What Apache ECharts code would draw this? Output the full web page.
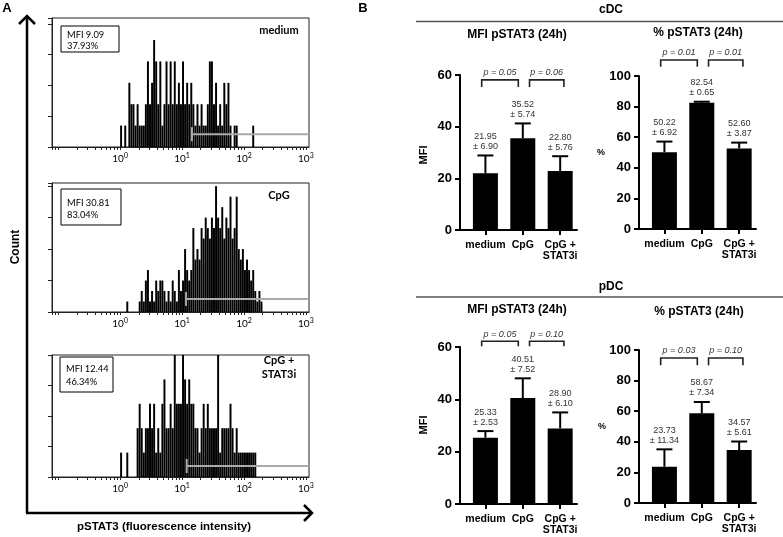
<!DOCTYPE html>
<html>
<head>
<meta charset="utf-8">
<script src="https://cdn.jsdelivr.net/npm/echarts@6/dist/echarts.min.js"></script>
<style>html,body{margin:0;padding:0;background:#fff}#main{width:783px;height:537px}</style>
</head>
<body>
<div id="main"></div>
<script>
// ---- panel A: histograms, bins on log10 scale ----
const binStart = 0;          // log10 of first bin
const binWidth = 1 / 30;     // decades per bin
const histMedium = [1,0,1,0,3,2,2,1,2,1, 1,1,2,4,2,3,5,4,2,4, 1,2,4,2,4,2,4,2,3,2,
                    4,2,3,2,3,2,1,2,1,2, 1,1,2,4,4,2,3,1,2,1, 3,2,3,1,0,1,1,0,0,0, 0,0,0,0,1];
const histCpG = [0,0,0,1,0,0,0,0,0, 1,2,1,3,4,1,2,1,3,2, 3,3,2,1,2,1,3,2,1,4,
                 2,3,6,4,3,4,8,5,6,5, 8,7,9,8,7,9,8,12,9,8, 10,7,9,8,11,7,8,11,6,5, 6,4,5,4,3,4,2,1,2,1];
const histStat3i = [1,0,0,1,0,0,0,0,2,3, 2,1,2,2,3,2,3,1,2,1, 3,4,2,2,3,2,5,3,3,3,
                    5,4,3,4,3,3,2,2,1,2, 3,2,3,2,2,2,2,5,1,2, 2,2,2,3,2,1,2,1,1,1, 1,1,1,1,1,1];
const histNames = ['medium', 'CpG', 'CpG +\nSTAT3i'];
const histMFI = ['MFI 9.09', 'MFI 30.81', 'MFI 12.44'];
const histPct = ['37.93%', '83.04%', '46.34%'];
const gateStart = [1.16, 1.065, 1.075];
const gateLevel = [0.6, 1.25, 0.45];
const decadeLabels = [0, 1, 2, 3];

// ---- panel B: bar charts ----
const groups = ['medium', 'CpG', 'CpG +\nSTAT3i'];
const cdcMfiMean = [21.95, 35.52, 22.80];
const cdcMfiSd = [6.90, 5.74, 5.76];
const cdcMfiP = ['0.05', '0.06'];
const cdcPctMean = [50.22, 82.54, 52.60];
const cdcPctSd = [6.92, 0.65, 3.87];
const cdcPctP = ['0.01', '0.01'];
const pdcMfiMean = [25.33, 40.51, 28.90];
const pdcMfiSd = [2.53, 7.52, 6.10];
const pdcMfiP = ['0.05', '0.10'];
const pdcPctMean = [23.73, 58.67, 34.57];
const pdcPctSd = [11.34, 7.34, 5.61];
const pdcPctP = ['0.03', '0.10'];

const fA = 'Lato, "Open Sans", sans-serif';
const fB = '"Liberation Sans", Arial, sans-serif';

const chart = echarts.init(document.getElementById('main'));

const logMin = -1.1, logMax = 3.05;
const logTicks = [];
for (let d = -2; d < 4; d++) {
    for (let k = 1; k < 10; k++) {
        const v = d + Math.log10(k);
        if (v >= logMin && v <= logMax) logTicks.push(v);
    }
}

const histCounts = [histMedium, histCpG, histStat3i];
const histGrids = [
    { left: 52, top: 18, width: 257, height: 129 },
    { left: 52, top: 183, width: 257, height: 129 },
    { left: 52, top: 355, width: 257, height: 122 }
];
const histYMax = [6.03, 12.3, 5];
const histYStep = [1.44, 3, 1.25];

const barGrids = [
    { left: 460, top: 75, width: 117, height: 155 },
    { left: 639, top: 76, width: 117, height: 153 },
    { left: 460, top: 347, width: 117, height: 157 },
    { left: 639, top: 350, width: 117, height: 153 }
];
const barPanels = [
    { mean: cdcMfiMean, sd: cdcMfiSd, p: cdcMfiP, max: 60, line: 58.1, leg: 55.4 },
    { mean: cdcPctMean, sd: cdcPctSd, p: cdcPctP, max: 100, line: 110.5, leg: 106 },
    { mean: pdcMfiMean, sd: pdcMfiSd, p: pdcMfiP, max: 60, line: 62.2, leg: 60.3 },
    { mean: pdcPctMean, sd: pdcPctSd, p: pdcPctP, max: 100, line: 94.8, leg: 90 }
];

const grid = [], xAxis = [], yAxis = [], series = [];

// histograms
histCounts.forEach((counts, i) => {
    grid.push(Object.assign({ show: true, borderColor: '#222', borderWidth: 1 }, histGrids[i]));
    xAxis.push({
        type: 'value', gridIndex: i, min: logMin, max: logMax,
        axisLine: { onZero: false, lineStyle: { color: '#222', width: 1 } },
        axisTick: { show: true, customValues: logTicks, length: 3, lineStyle: { color: '#222' } },
        axisLabel: {
            customValues: decadeLabels, margin: 5, color: '#000', fontFamily: fA,
            formatter: v => '10{s|' + Math.round(v) + '}',
            rich: { s: { fontSize: 7, fontFamily: fA, verticalAlign: 'top', padding: [0, 0, 6, 0] } },
            fontSize: 10
        },
        splitLine: { show: false }
    });
    yAxis.push({
        type: 'value', gridIndex: i, min: 0, max: histYMax[i], interval: histYStep[i],
        axisLine: { show: true, onZero: false, lineStyle: { color: '#222', width: 1 } },
        axisTick: { show: true, length: 4, lineStyle: { color: '#222' } },
        axisLabel: { show: false },
        splitLine: { show: false }
    });
    series.push({
        type: 'custom', xAxisIndex: i, yAxisIndex: i, silent: true,
        data: counts.map((c, b) => [binStart + b * binWidth, binStart + (b + 1) * binWidth, c]).filter(d => d[2] > 0),
        encode: { x: [0, 1], y: 2 },
        renderItem: (params, api) => {
            const p0 = api.coord([api.value(0), 0]);
            const p1 = api.coord([api.value(1), api.value(2)]);
            return {
                type: 'rect',
                shape: { x: p0[0], y: p1[1], width: (p1[0] - p0[0]) * 0.95, height: p0[1] - p1[1] },
                style: { fill: '#000' }
            };
        }
    });
    series.push({
        type: 'custom', xAxisIndex: i, yAxisIndex: i, silent: true, z: 5,
        data: [[gateStart[i], gateLevel[i]]],
        renderItem: (params, api) => {
            const a = api.coord([api.value(0), api.value(1)]);
            const b = api.coord([logMax, api.value(1)]);
            return {
                type: 'group', children: [
                    { type: 'line', shape: { x1: a[0], y1: a[1], x2: b[0], y2: b[1] }, style: { stroke: '#aaa', lineWidth: 2 } },
                    { type: 'line', shape: { x1: a[0], y1: a[1] - 7, x2: a[0], y2: a[1] + 7 }, style: { stroke: '#aaa', lineWidth: 2 } }
                ]
            };
        }
    });
});

// bar charts
barPanels.forEach((bp, k) => {
    const gi = k + 3;
    grid.push(Object.assign({}, barGrids[k]));
    xAxis.push({
        type: 'value', gridIndex: gi, min: -0.68, max: 2.45,
        axisLine: { onZero: false, lineStyle: { color: '#000', width: 2 } },
        axisTick: { show: true, customValues: [0, 1, 2], length: 5, lineStyle: { color: '#000', width: 2 } },
        axisLabel: {
            customValues: [0, 1, 2], formatter: v => groups[Math.round(v)],
            color: '#000', fontWeight: 'bold', fontSize: 10.5, lineHeight: 11, margin: 10, fontFamily: fB
        },
        splitLine: { show: false }
    });
    yAxis.push({
        type: 'value', gridIndex: gi, min: 0, max: bp.max, interval: 20,
        axisLine: { show: true, onZero: false, lineStyle: { color: '#000', width: 2 } },
        axisTick: { show: true, length: 5, lineStyle: { color: '#000', width: 2 } },
        axisLabel: { color: '#000', fontWeight: 'bold', fontSize: 13, margin: 8, fontFamily: fB },
        splitLine: { show: false }
    });
    series.push({
        type: 'bar', xAxisIndex: gi, yAxisIndex: gi, barWidth: 25, silent: true,
        itemStyle: { color: '#000' },
        data: bp.mean.map((m, i) => [i, m])
    });
    series.push({
        type: 'custom', xAxisIndex: gi, yAxisIndex: gi, silent: true, z: 5,
        data: bp.mean.map((m, i) => [i, m, bp.sd[i]]),
        renderItem: (params, api) => {
            const x = api.value(0), m = api.value(1), s = api.value(2);
            const base = api.coord([x, m]);
            const top = api.coord([x, m + s]);
            const ts = { fill: '#333', font: '9px ' + fB, align: 'center', verticalAlign: 'middle', textAlign: 'center', textVerticalAlign: 'middle' };
            return {
                type: 'group', children: [
                    { type: 'line', shape: { x1: base[0], y1: base[1], x2: top[0], y2: top[1] }, style: { stroke: '#000', lineWidth: 2 } },
                    { type: 'line', shape: { x1: top[0] - 8, y1: top[1], x2: top[0] + 8, y2: top[1] }, style: { stroke: '#000', lineWidth: 2 } },
                    { type: 'text', x: top[0], y: top[1] - 19, style: Object.assign({ text: m.toFixed(2) }, ts) },
                    { type: 'text', x: top[0], y: top[1] - 9, style: Object.assign({ text: '\u00b1 ' + s.toFixed(2) }, ts) }
                ]
            };
        }
    });
    series.push({
        type: 'custom', xAxisIndex: gi, yAxisIndex: gi, silent: true, z: 5,
        data: [[0, 1], [1, 2]],
        renderItem: (params, api) => {
            const first = params.dataIndex === 0;
            const xa = api.value(0) + (first ? -0.1 : 0.18);
            const xb = api.value(1) + (first ? -0.12 : 0.1);
            const a0 = api.coord([xa, bp.leg]), a1 = api.coord([xa, bp.line]);
            const b1 = api.coord([xb, bp.line]), b0 = api.coord([xb, bp.leg]);
            return {
                type: 'group', children: [
                    { type: 'polyline', shape: { points: [a0, a1, b1, b0] }, style: { stroke: '#222', lineWidth: 1.6, fill: null } },
                    {
                        type: 'text', x: (a1[0] + b1[0]) / 2, y: a1[1] - 7,
                        style: { text: 'p = ' + bp.p[params.dataIndex], fill: '#333', font: 'italic 9px ' + fB, align: 'center', verticalAlign: 'middle', textAlign: 'center', textVerticalAlign: 'middle' }
                    }
                ]
            };
        }
    });
});

function txt(x, y, text, font, align, extra) {
    return Object.assign({
        type: 'text', x: x, y: y, silent: true,
        style: { text: text, font: font, fill: '#000', align: align || 'center', verticalAlign: 'middle', textAlign: align || 'center', textVerticalAlign: 'middle' }
    }, extra || {});
}

const graphic = [
    txt(7, 8, 'A', 'bold 13px ' + fB),
    txt(363, 8, 'B', 'bold 13px ' + fB),
    { type: 'polyline', silent: true, shape: { points: [[27, 513], [27, 16]] }, style: { stroke: '#000', lineWidth: 2.5 } },
    { type: 'polyline', silent: true, shape: { points: [[19, 24], [27, 16], [35, 24]] }, style: { stroke: '#000', lineWidth: 2.5, fill: null } },
    { type: 'polyline', silent: true, shape: { points: [[26, 513], [312, 513]] }, style: { stroke: '#000', lineWidth: 2.5 } },
    { type: 'polyline', silent: true, shape: { points: [[304, 505], [312, 513], [304, 521]] }, style: { stroke: '#000', lineWidth: 2.5, fill: null } },
    txt(16, 247, 'Count', 'bold 12px ' + fB, 'center', { rotation: Math.PI / 2 }),
    txt(164, 527, 'pSTAT3 (fluorescence intensity)', 'bold 11.5px ' + fB),
    { type: 'line', silent: true, shape: { x1: 416, y1: 21.5, x2: 783, y2: 21.5 }, style: { stroke: '#555', lineWidth: 1.5 } },
    { type: 'line', silent: true, shape: { x1: 416, y1: 297, x2: 783, y2: 297 }, style: { stroke: '#555', lineWidth: 1.5 } },
    txt(611, 10, 'cDC', 'bold 12px ' + fB),
    txt(611, 287, 'pDC', 'bold 12px ' + fB),
    txt(517, 35, 'MFI pSTAT3 (24h)', 'bold 12px ' + fB),
    txt(698, 33, '% pSTAT3 (24h)', 'bold 12px ' + fB),
    txt(517, 310, 'MFI pSTAT3 (24h)', 'bold 12px ' + fB),
    txt(699, 312, '% pSTAT3 (24h)', 'bold 12px ' + fB),
    txt(424, 155, 'MFI', 'bold 11px ' + fB, 'center', { rotation: Math.PI / 2 }),
    txt(424, 425, 'MFI', 'bold 11px ' + fB, 'center', { rotation: Math.PI / 2 }),
    txt(601, 153, '%', 'bold 9px ' + fB),
    txt(602, 427, '%', 'bold 9px ' + fB)
];

// label boxes of panel A
const boxes = [
    { x: 61, y: 26, w: 58, h: 26, t1: 35, t2: 46 },
    { x: 61, y: 189, w: 60, h: 36, t1: 203, t2: 215 },
    { x: 60, y: 357, w: 53, h: 35, t1: 369, t2: 382 }
];
const nameY = [[30], [195], [360, 374]];
boxes.forEach((b, i) => {
    graphic.push({ type: 'rect', silent: true, shape: { x: b.x, y: b.y, width: b.w, height: b.h }, style: { fill: '#fff', stroke: '#000', lineWidth: 1 }, z: 10 });
    graphic.push(Object.assign(txt(b.x + 6, b.t1, histMFI[i], '9.3px ' + fA, 'left'), { z: 11 }));
    graphic.push(Object.assign(txt(b.x + 6, b.t2, histPct[i], '9.3px ' + fA, 'left'), { z: 11 }));
    histNames[i].split('\n').forEach((s, j) => {
        graphic.push(Object.assign(txt(279, nameY[i][j], s, 'bold 11px ' + fA), { z: 11 }));
    });
});

chart.setOption({
    animation: false,
    grid: grid,
    xAxis: xAxis,
    yAxis: yAxis,
    series: series,
    graphic: graphic
});
</script>
</body>
</html>
